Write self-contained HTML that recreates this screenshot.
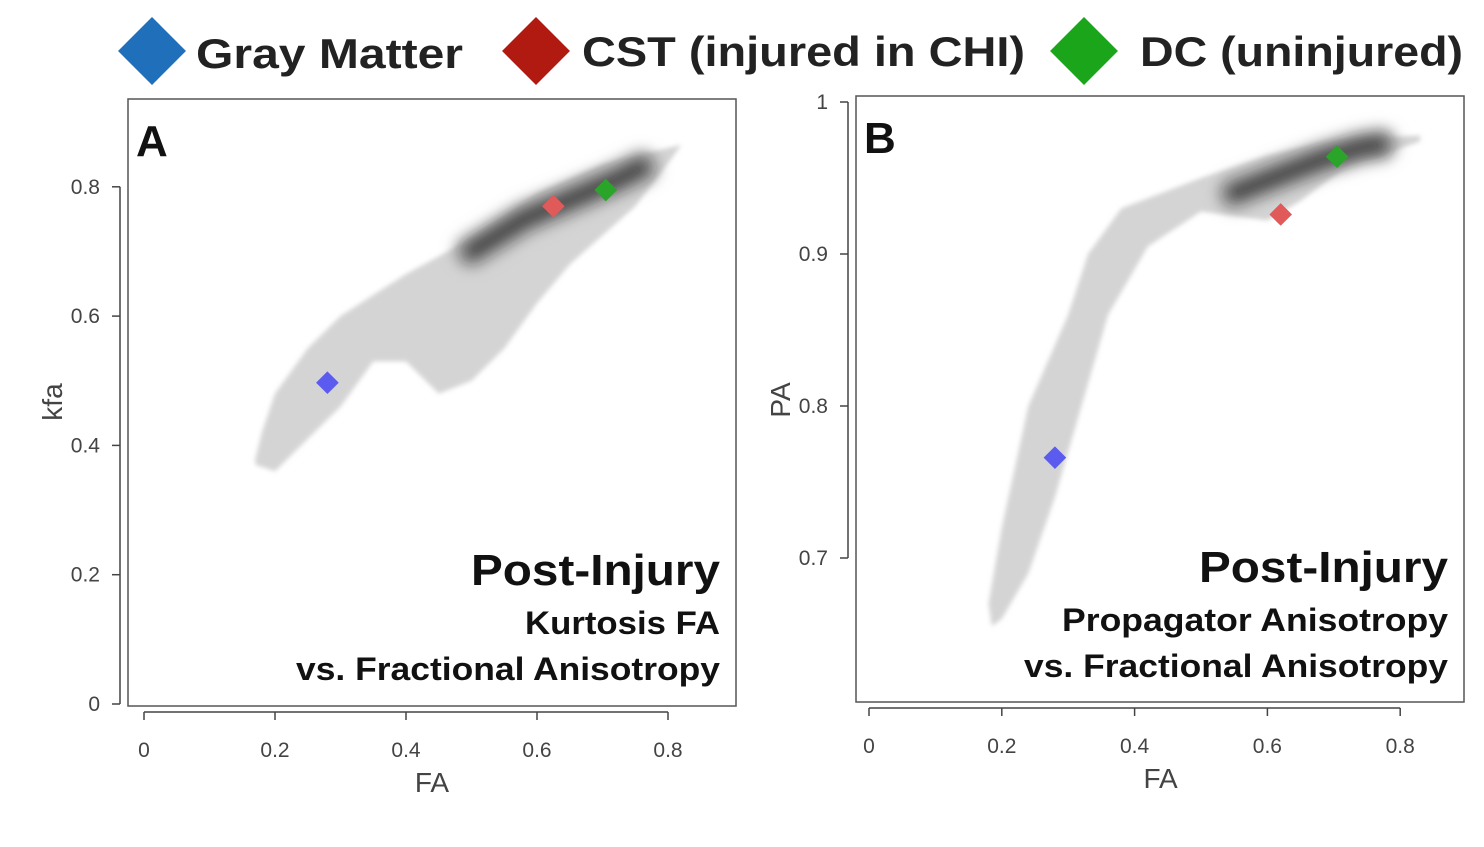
<!DOCTYPE html>
<html><head><meta charset="utf-8">
<style>
body{margin:0;background:#fff;width:1484px;height:842px;overflow:hidden;font-family:"Liberation Sans",sans-serif;}
svg text{font-family:"Liberation Sans",sans-serif;}
</style></head>
<body>
<svg id="chart" width="1484" height="842" viewBox="0 0 1484 842">
<defs>
<filter id="blur" filterUnits="userSpaceOnUse" x="0" y="0" width="1484" height="842"><feGaussianBlur stdDeviation="7"/></filter>
<filter id="blur2" filterUnits="userSpaceOnUse" x="0" y="0" width="1484" height="842"><feGaussianBlur stdDeviation="2.5"/></filter>
</defs>
<g>
  <g>
    <rect x="128" y="27" width="48" height="48" fill="#1f6fba" transform="rotate(45 152 51)"/>
    <text x="196" y="68" font-size="42" font-weight="bold" fill="#222" textLength="267" lengthAdjust="spacingAndGlyphs">Gray Matter</text>
  </g>
  <g>
    <rect x="512" y="27" width="48" height="48" fill="#b01a10" transform="rotate(45 536 51)"/>
    <text x="582" y="66" font-size="42" font-weight="bold" fill="#222" textLength="443" lengthAdjust="spacingAndGlyphs">CST (injured in CHI)</text>
  </g>
  <g>
    <rect x="1060" y="27" width="48" height="48" fill="#1aa51a" transform="rotate(45 1084 51)"/>
    <text x="1140" y="66" font-size="42" font-weight="bold" fill="#222" textLength="323" lengthAdjust="spacingAndGlyphs">DC (uninjured)</text>
  </g>
</g>
<g id="panelA"></g>
<g id="panelB"></g>
</svg>
<script>
// Panel A data (FA vs kfa)
const aUpperFA = [0.17,0.18,0.2,0.25,0.3,0.4,0.5,0.6,0.7,0.82];
const aUpperY  = [0.38,0.42,0.48,0.55,0.6,0.665,0.72,0.79,0.835,0.865];
const aLowerFA = [0.81,0.75,0.65,0.6,0.55,0.5,0.45,0.4,0.35,0.3,0.25,0.2,0.17];
const aLowerY  = [0.85,0.77,0.68,0.62,0.55,0.5,0.48,0.53,0.53,0.46,0.41,0.36,0.37];
const aCoreFA = [0.5,0.58,0.65,0.72,0.76];
const aCoreY  = [0.7,0.75,0.78,0.81,0.83];
const aXTicks = [0,0.2,0.4,0.6,0.8];
const aXLabels = ["0","0.2","0.4","0.6","0.8"];
const aYTicks = [0,0.2,0.4,0.6,0.8];
const aYLabels = ["0","0.2","0.4","0.6","0.8"];
const aMarkFA = [0.28,0.625,0.705];
const aMarkY  = [0.497,0.77,0.795];
// Panel B data (FA vs PA)
const bUpperFA = [0.18,0.2,0.24,0.3,0.33,0.38,0.5,0.6,0.7,0.83];
const bUpperY  = [0.67,0.72,0.8,0.86,0.9,0.93,0.95,0.965,0.975,0.978];
const bLowerFA = [0.83,0.72,0.65,0.6,0.5,0.42,0.36,0.32,0.28,0.24,0.2,0.185];
const bLowerY  = [0.974,0.958,0.935,0.922,0.928,0.905,0.86,0.8,0.74,0.69,0.66,0.655];
const bCoreFA = [0.55,0.62,0.68,0.74,0.77];
const bCoreY  = [0.94,0.952,0.962,0.97,0.972];
const bXTicks = [0,0.2,0.4,0.6,0.8];
const bXLabels = ["0","0.2","0.4","0.6","0.8"];
const bYTicks = [0.7,0.8,0.9,1];
const bYLabels = ["0.7","0.8","0.9","1"];
const bMarkFA = [0.28,0.62,0.705];
const bMarkY  = [0.766,0.926,0.964];
const markColors = ["#5b5bf0","#e05a5a","#2aa52a"];
const markNames = ["marker-gray-matter","marker-cst","marker-dc"];

const NS="http://www.w3.org/2000/svg";
function mk(parent,tag,attrs,txt){const e=document.createElementNS(NS,tag);for(const k in attrs)e.setAttribute(k,attrs[k]);if(txt!==undefined)e.textContent=txt;parent.appendChild(e);return e;}

function panel(g,cfg){
  const sx=v=>cfg.x0+(v-cfg.xmin)*cfg.xs;
  const sy=v=>cfg.y0-(v-cfg.ymin)*cfg.ys;
  const box=mk(g,'rect',{x:cfg.box[0],y:cfg.box[1],width:cfg.box[2],height:cfg.box[3],fill:'none',stroke:'#555','stroke-width':1.5});
  
  
  let d='';
  cfg.uF.forEach((v,i)=>{d+=(i?'L':'M')+sx(v)+','+sy(cfg.uY[i]);});
  cfg.lF.forEach((v,i)=>{d+='L'+sx(v)+','+sy(cfg.lY[i]);});
  const cloud=mk(g,'path',{d:d+'Z',fill:'#d4d4d4',filter:'url(#blur2)'});
  
  
  let c='';
  cfg.cF.forEach((v,i)=>{c+=(i?'L':'M')+sx(v)+','+sy(cfg.cY[i]);});
  const core1=mk(g,'path',{d:c,fill:'none',stroke:'#999','stroke-width':34,'stroke-linecap':'round',filter:'url(#blur)'});
  
  
  const core2=mk(g,'path',{d:c,fill:'none',stroke:'#333','stroke-width':12,'stroke-linecap':'round',filter:'url(#blur)'});
  
  
  cfg.mF.forEach((v,i)=>{
    const x=sx(v),y=sy(cfg.mY[i]);
    const m=mk(g,'rect',{x:x-8,y:y-8,width:16,height:16,fill:markColors[i],transform:`rotate(45 ${x} ${y})`});
    
    
  });
  const xa=mk(g,'line',{x1:sx(cfg.xt[0]),x2:sx(cfg.xt[cfg.xt.length-1]),y1:cfg.xaxY,y2:cfg.xaxY,stroke:'#444','stroke-width':1.5});
  
  
  cfg.xt.forEach((v,i)=>{
    mk(g,'line',{x1:sx(v),x2:sx(v),y1:cfg.xaxY,y2:cfg.xaxY+8,stroke:'#444','stroke-width':1.5});
    const t=mk(g,'text',{x:sx(v),y:cfg.xaxY+45,'font-size':21,'text-anchor':'middle',fill:'#444'},cfg.xl[i]);
    
    
  });
  const xt=mk(g,'text',{x:(sx(0)+sx(0.8))/2+26,y:cfg.xaxY+80,'font-size':28,'text-anchor':'middle',fill:'#444'},'FA');
  
  
  const ya=mk(g,'line',{x1:cfg.yaxX,x2:cfg.yaxX,y1:sy(cfg.yt[0]),y2:sy(cfg.yt[cfg.yt.length-1]),stroke:'#444','stroke-width':1.5});
  
  
  cfg.yt.forEach((v,i)=>{
    mk(g,'line',{x1:cfg.yaxX-8,x2:cfg.yaxX,y1:sy(v),y2:sy(v),stroke:'#444','stroke-width':1.5});
    const t=mk(g,'text',{x:cfg.yaxX-20,y:sy(v)+7,'font-size':21,'text-anchor':'end',fill:'#444'},cfg.yl[i]);
    
    
  });
  const yt=mk(g,'text',{x:cfg.ytx,y:cfg.yty,'font-size':28,'text-anchor':'middle',fill:'#444',transform:`rotate(-90 ${cfg.ytx} ${cfg.yty})`},cfg.ytitle);
  
  
  const L=mk(g,'text',{x:cfg.box[0]+8,y:cfg.box[1]+57,'font-size':44,'font-weight':'bold',fill:'#111'},cfg.letter);
  
  
  const r=cfg.box[0]+cfg.box[2]-16;
  const t1=mk(g,'text',{x:r,y:cfg.box[1]+486,'font-size':44,'font-weight':'bold','text-anchor':'end',fill:'#111',textLength:249,lengthAdjust:'spacingAndGlyphs'},'Post-Injury');
  
  
  const t2=mk(g,'text',{x:r,y:cfg.box[1]+535,'font-size':32,'font-weight':'bold','text-anchor':'end',fill:'#111',textLength:cfg.sub1w,lengthAdjust:'spacingAndGlyphs'},cfg.sub1);
  
  
  const t3=mk(g,'text',{x:r,y:cfg.box[1]+581,'font-size':32,'font-weight':'bold','text-anchor':'end',fill:'#111',textLength:424,lengthAdjust:'spacingAndGlyphs'},'vs. Fractional Anisotropy');
  
  
}
panel(document.getElementById('panelA'),{x0:144,xmin:0,xs:655,y0:704,ymin:0,ys:646.5,box:[128,99,608,607],
 uF:aUpperFA,uY:aUpperY,lF:aLowerFA,lY:aLowerY,cF:aCoreFA,cY:aCoreY,mF:aMarkFA,mY:aMarkY,
 xt:aXTicks,xl:aXLabels,yt:aYTicks,yl:aYLabels,xaxY:712,yaxX:120,ytx:62,yty:402,ytitle:'kfa',letter:'A',sub1:'Kurtosis FA',sub1w:195});
panel(document.getElementById('panelB'),{x0:869,xmin:0,xs:664,y0:558,ymin:0.7,ys:1520,box:[856,96,608,606],
 uF:bUpperFA,uY:bUpperY,lF:bLowerFA,lY:bLowerY,cF:bCoreFA,cY:bCoreY,mF:bMarkFA,mY:bMarkY,
 xt:bXTicks,xl:bXLabels,yt:bYTicks,yl:bYLabels,xaxY:708,yaxX:848,ytx:790,yty:400,ytitle:'PA',letter:'B',sub1:'Propagator Anisotropy',sub1w:386});
</script>
</body></html>
